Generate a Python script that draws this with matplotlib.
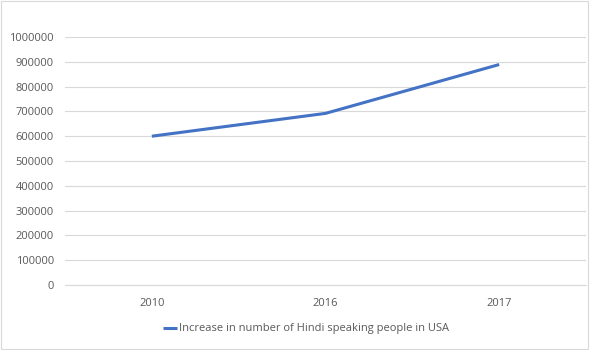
from matplotlib import pyplot as plt
from matplotlib.patches import Rectangle

years = ['2010', '2016', '2017']
speakers = [600000, 692000, 889000]
y_ticks = list(range(0, 1000001, 100000))
series_name = 'Increase in number of Hindi speaking people in USA'

LINE_COLOR = '#4472C4'
TEXT_COLOR = '#595959'
GRID_COLOR = '#D9D9D9'

plt.rcParams['font.family'] = ['Open Sans', 'DejaVu Sans']

fig = plt.figure(figsize=(6, 3.5), dpi=100)
axes = fig.add_axes([65 / 600, 1 - 285 / 350, 521 / 600, 248 / 350])

positions = range(len(years))
axes.plot(positions, speakers, color=LINE_COLOR, linewidth=2.2,
          solid_capstyle='butt', label=series_name, zorder=3)

axes.set_xlim(-0.5, len(years) - 0.5)
axes.set_ylim(0, 1000000)
axes.set_xticks(list(positions), years)
axes.set_yticks(y_ticks, [str(v) for v in y_ticks])
axes.tick_params(length=0, labelsize=8, colors=TEXT_COLOR)
axes.tick_params(axis='x', pad=9)
axes.tick_params(axis='y', pad=8)

axes.grid(axis='y', color=GRID_COLOR, linewidth=0.8)
axes.set_axisbelow(True)
for side in ('left', 'right', 'top'):
    axes.spines[side].set_visible(False)
axes.spines['bottom'].set_color(GRID_COLOR)
axes.spines['bottom'].set_linewidth(0.8)

legend = fig.legend(loc='center', bbox_to_anchor=(306 / 600, 1 - 329 / 350),
                    frameon=False, fontsize=8, handlelength=1.2,
                    handletextpad=0.2, labelcolor=TEXT_COLOR)

fig.patches.append(Rectangle((0.002, 0.002), 0.978, 0.994, transform=fig.transFigure,
                             fill=False, edgecolor=GRID_COLOR, linewidth=0.8))

fig.savefig('out.png', dpi=100)
plt.close()
